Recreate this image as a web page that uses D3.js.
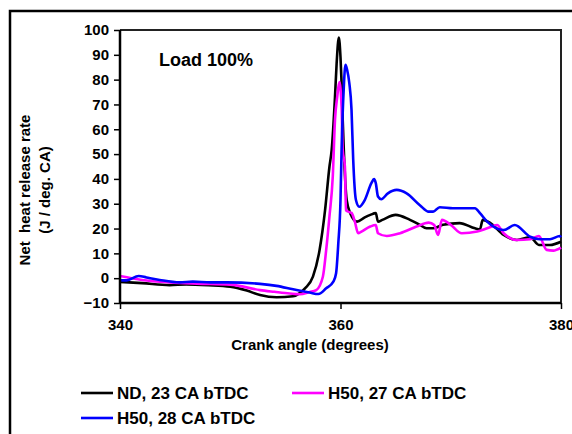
<!DOCTYPE html>
<html><head><meta charset="utf-8">
<script src="https://cdn.jsdelivr.net/npm/d3@7"></script>
<style>body{margin:0;background:#fff;}text{font-family:Arial,"Liberation Sans",sans-serif;font-weight:bold;fill:#000;}</style>
</head><body>
<script>
const seriesNames = ["ND, 23 CA bTDC", "H50, 27 CA bTDC", "H50, 28 CA bTDC"];
const seriesColors = ["#000000", "#ff00ff", "#0000ff"];
const xTicks = [340, 360, 380];
const yTicks = [-10, 0, 10, 20, 30, 40, 50, 60, 70, 80, 90, 100];

const ndAngle = [340, 342, 344.5, 346, 348, 350, 351.5, 352.7, 354.2, 355.7, 356.3, 356.8, 357.5, 358.1, 358.6, 359.0, 359.2, 359.5, 359.65, 359.85, 360.0, 360.1, 360.2, 360.3, 360.56, 360.9, 361.5, 362.2, 362.7, 363.2, 363.4, 363.8, 365, 366.3, 367.2, 367.8, 368.4, 369.3, 370.8, 372.2, 372.65, 372.9, 373.6, 374.8, 376, 377.2, 378, 379, 380];
const ndValue = [-1.5, -2, -2.8, -2.5, -2.8, -3.4, -5, -6.8, -7.7, -7.3, -6, -4, 0.6, 11.3, 27.4, 45, 51.7, 73, 86.6, 97, 89, 78.6, 63.8, 51.7, 31.5, 26, 22.8, 24.5, 25.5, 26.2, 22.8, 23.5, 25.5, 23.5, 21.5, 20.1, 20.1, 21.5, 22.2, 20.1, 19.7, 23.5, 22.2, 17.4, 15.4, 16.5, 13.4, 13.4, 14.7];

const h27Angle = [340, 342, 344.5, 347, 350, 352.7, 354, 355.4, 356.3, 357.2, 357.8, 358.4, 358.7, 359.0, 359.3, 359.5, 359.7, 359.9, 360.1, 360.2, 360.4, 360.5, 360.7, 361.0, 361.3, 361.6, 361.9, 362.7, 363.2, 363.4, 364.2, 365.4, 366.9, 368.0, 368.5, 368.85, 369.2, 370, 371, 372.4, 373.3, 374.2, 374.8, 376, 377.2, 378, 378.7, 379.3, 380];
const h27Value = [0.9, -0.7, -1.7, -2.2, -2.6, -4.8, -5.5, -6.2, -6.5, -5.6, -4.8, 0.6, 11.3, 25, 41, 63.8, 73, 79, 69, 51.7, 45, 27.4, 26.8, 26.3, 22.8, 18.1, 18.8, 20.8, 21.4, 18.1, 17, 18.1, 20.8, 22.4, 21.4, 17.4, 23.5, 21.5, 18.1, 18.8, 20.1, 21.4, 18.1, 15.4, 15.7, 17, 11.4, 11.1, 12.3];

const h28Angle = [340, 340.6, 341.7, 342.4, 343.6, 345.4, 346.6, 348.2, 349.7, 352.7, 354.2, 355.7, 357.2, 358.0, 358.7, 359.35, 359.6, 359.8, 360.0, 360.1, 360.3, 360.45, 360.6, 360.8, 361.0, 361.15, 361.4, 361.7, 362.2, 362.8, 363.04, 363.2, 363.4, 363.7, 364.3, 365.1, 366.0, 367.2, 368.0, 368.4, 369.0, 370.2, 372.2, 372.65, 373.3, 374.8, 375.8, 377.2, 378.1, 379, 379.9, 380];
const h28Value = [-0.9, -0.9, 0.9, 0.3, -0.7, -1.7, -1.4, -1.7, -1.7, -2.3, -3.1, -4.5, -5.8, -6.4, -4.1, -1.4, 2, 14, 31.5, 52, 77, 86, 84, 78.6, 67.8, 48, 31.5, 28.8, 31.5, 38.3, 39.9, 38.3, 32.9, 31.8, 34.2, 35.6, 34.2, 29.4, 26.8, 26.8, 28.6, 28.2, 28.2, 26.2, 22.8, 19.4, 21.4, 16.7, 15.7, 15.7, 17, 16.5];

const W = 572, H = 434;
const svg = d3.select("body").append("svg").attr("width", W).attr("height", H);

// outer chart border
svg.append("rect").attr("x", 10).attr("y", 11).attr("width", 600).attr("height", 500)
  .attr("fill", "none").attr("stroke", "#000").attr("stroke-width", 2.5);

const L = 120, R = 561, T = 30, B = 303;
const x = d3.scaleLinear().domain([340, 380]).range([L, R]);
const y = d3.scaleLinear().domain([-10, 100]).range([B, T]);

// plot frame top/right
svg.append("path").attr("d", `M${L},${T}H${R}V${B}`).attr("fill", "none")
  .attr("stroke", "#222").attr("stroke-width", 2);

const series = [
  {a: ndAngle, v: ndValue},
  {a: h27Angle, v: h27Value},
  {a: h28Angle, v: h28Value}
];
const line = d3.line().x(d => x(d[0])).y(d => y(d[1])).curve(d3.curveMonotoneX);
series.forEach((s, i) => {
  const pts = s.a.map((a, j) => [a, s.v[j]]);
  svg.append("path").datum(pts).attr("d", line).attr("fill", "none")
    .attr("stroke", seriesColors[i]).attr("stroke-width", 2.6).attr("stroke-linejoin", "round");
});

// axes
const yAxis = svg.append("g").attr("transform", `translate(${L},0)`)
  .call(d3.axisLeft(y).tickValues(yTicks).tickSize(6).tickPadding(5));
const xAxis = svg.append("g").attr("transform", `translate(0,${B})`)
  .call(d3.axisBottom(x).tickValues(xTicks).tickSize(6).tickPadding(10));
[yAxis, xAxis].forEach(g => {
  g.select(".domain").attr("stroke", "#000").attr("stroke-width", 2.5);
  g.selectAll(".tick line").attr("stroke", "#000").attr("stroke-width", 1.5);
  g.selectAll("text").style("font-size", "15px").style("font-weight", "bold")
    .style("font-family", "Arial, 'Liberation Sans', sans-serif").attr("fill", "#000");
});
yAxis.select(".domain").attr("d", `M0,${B}V${T}`);
xAxis.select(".domain").attr("d", `M${L},0H${R}`);

// title
svg.append("text").attr("x", 159).attr("y", 66).style("font-size", "18px").text("Load 100%");

// axis titles
svg.append("text").attr("transform", "translate(30,190) rotate(-90)").attr("text-anchor", "middle")
  .style("font-size", "15px").style("white-space", "pre").text("Net  heat release rate");
svg.append("text").attr("transform", "translate(50,190) rotate(-90)").attr("text-anchor", "middle")
  .style("font-size", "15px").text("(J / deg. CA)");
svg.append("text").attr("x", 310).attr("y", 350).attr("text-anchor", "middle")
  .style("font-size", "15px").text("Crank angle (degrees)");

// legend
const legPos = [[81, 393], [292, 393], [81, 418]];
seriesNames.forEach((n, i) => {
  const [lx, ly] = legPos[i];
  svg.append("line").attr("x1", lx).attr("x2", lx + 32).attr("y1", ly).attr("y2", ly)
    .attr("stroke", seriesColors[i]).attr("stroke-width", 2.6);
  svg.append("text").attr("x", lx + 36).attr("y", ly + 6).style("font-size", "17px").text(n);
});
</script>
</body></html>
